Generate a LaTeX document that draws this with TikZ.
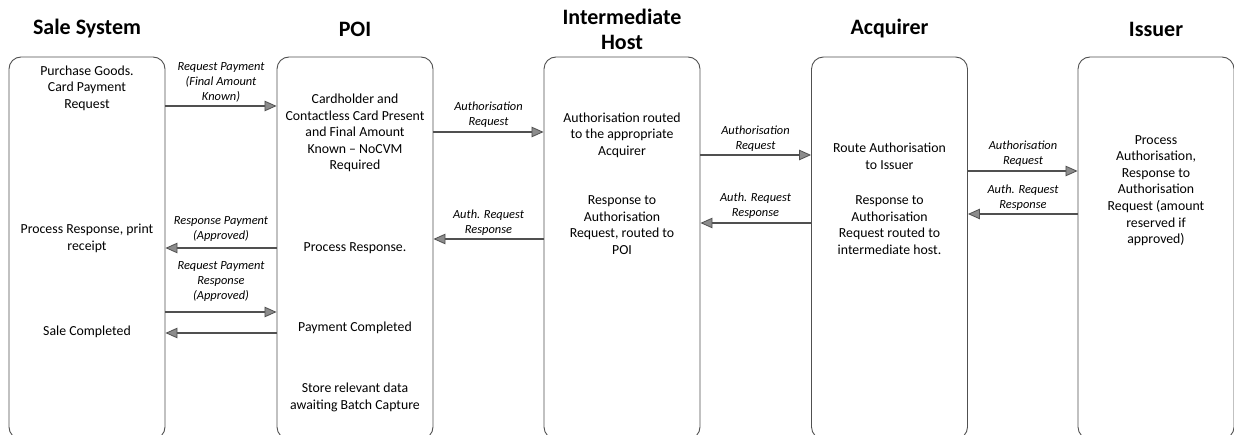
\documentclass[tikz,border=0pt]{standalone}
\usepackage{fontspec}
\setmainfont{Carlito}
\usetikzlibrary{arrows.meta}
\definecolor{edge}{HTML}{505050}
\definecolor{tipfill}{HTML}{8C8C8C}
\tikzset{
  lane/.style={draw=edge, line width=0.9pt, rounded corners=12pt, minimum width=156pt, minimum height=382pt, inner sep=0pt},
  head/.style={font=\fontsize{22}{25}\selectfont\bfseries, align=center, inner sep=0pt},
  body/.style={font=\fontsize{13.8}{16.6}\selectfont, align=center, inner sep=0pt},
  lbl/.style={font=\fontsize{12.4}{15}\selectfont\itshape, align=center, inner sep=0pt},
  arr/.style={draw=edge, line width=1.3pt, -{Triangle[length=12pt,width=10.5pt,fill=tipfill,line width=0.8pt]}}
}
\begin{document}
\begin{tikzpicture}[x=1pt,y=-1pt]
\useasboundingbox (0,0) rectangle (1234,435);
% lanes
\node[lane] (b1) at (87,248) {};
\node[lane] (b2) at (355,248) {};
\node[lane] (b3) at (622,248) {};
\node[lane] (b4) at (889.5,248) {};
\node[lane] (b5) at (1156,248) {};
% headers
\node[head] (h1) at (87,29) {Sale System};
\node[head] (h2) at (355,29) {POI};
\node[head] (h3) at (622,29.5) {Intermediate\\Host};
\node[head] (h4) at (889.5,29) {Acquirer};
\node[head] (h5) at (1156,29) {Issuer};
% box texts
\node[body] (t11) at (87,88) {Purchase Goods.\\Card Payment\\Request};
\node[body] (t12) at (87,238.5) {Process Response, print\\receipt};
\node[body] (t13) at (87,332) {Sale Completed};
\node[body] (t21) at (355,133) {Cardholder and\\Contactless Card Present\\and Final Amount\\Known – NoCVM\\Required};
\node[body] (t22) at (355,248) {Process Response.};
\node[body] (t23) at (355,328) {Payment Completed};
\node[body] (t24) at (355,397.5) {Store relevant data\\awaiting Batch Capture};
\node[body] (t31) at (622,135) {Authorisation routed\\to the appropriate\\Acquirer};
\node[body] (t32) at (622,225) {Response to\\Authorisation\\Request, routed to\\POI};
\node[body] (t41) at (889.5,156.5) {Route Authorisation\\to Issuer};
\node[body] (t42) at (889.5,225) {Response to\\Authorisation\\Request routed to\\intermediate host.};
\node[body] (t51) at (1156,190.5) {Process\\Authorisation,\\Response to\\Authorisation\\Request (amount\\reserved if\\approved)};
% arrows
\draw[arr] (b1.east |- 0,106) -- (b2.west |- 0,106);
\draw[arr] (b2.west |- 0,248) -- (b1.east |- 0,248);
\draw[arr] (b1.east |- 0,312) -- (b2.west |- 0,312);
\draw[arr] (b2.west |- 0,333) -- (b1.east |- 0,333);
\draw[arr] (b2.east |- 0,132) -- (b3.west |- 0,132);
\draw[arr] (b3.west |- 0,239) -- (b2.east |- 0,239);
\draw[arr] (b3.east |- 0,155) -- (b4.west |- 0,155);
\draw[arr] (b4.west |- 0,223) -- (b3.east |- 0,223);
\draw[arr] (b4.east |- 0,171) -- (b5.west |- 0,171);
\draw[arr] (b5.west |- 0,214) -- (b4.east |- 0,214);
% arrow labels
\node[lbl] (l1) at (221,82) {Request Payment\\(Final Amount\\Known)};
\node[lbl] (l2) at (221,229) {Response Payment\\(Approved)};
\node[lbl] (l3) at (221,282) {Request Payment\\Response\\(Approved)};
\node[lbl] (l4) at (488.5,114.5) {Authorisation\\Request};
\node[lbl] (l5) at (488.5,222.5) {Auth. Request\\Response};
\node[lbl] (l6) at (755.5,138.5) {Authorisation\\Request};
\node[lbl] (l7) at (755.5,205.5) {Auth. Request\\Response};
\node[lbl] (l8) at (1023,153.5) {Authorisation\\Request};
\node[lbl] (l9) at (1023,198) {Auth. Request\\Response};
\end{tikzpicture}
\end{document}
